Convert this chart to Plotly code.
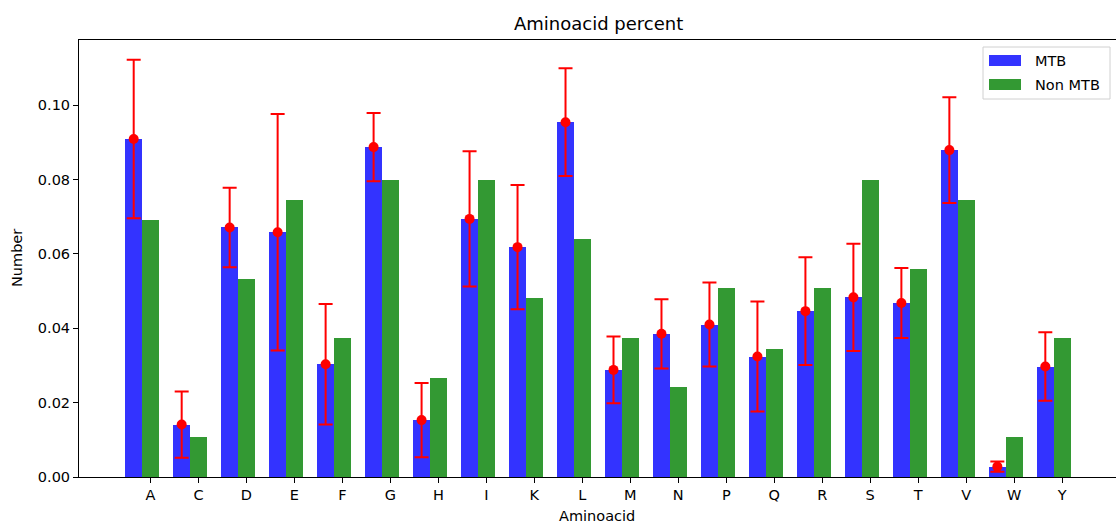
import plotly.graph_objects as go

# Amino acid composition: MTB mean (with spread) vs Non MTB
aminoacids = ["A", "C", "D", "E", "F", "G", "H", "I", "K", "L",
              "M", "N", "P", "Q", "R", "S", "T", "V", "W", "Y"]
mtb_mean = [0.0909, 0.0141, 0.0671, 0.0658, 0.0303, 0.0887, 0.0153, 0.0694, 0.0618, 0.0954,
            0.0288, 0.0385, 0.0410, 0.0324, 0.0446, 0.0483, 0.0468, 0.0879, 0.0028, 0.0297]
mtb_err = [0.0213, 0.0089, 0.0107, 0.0318, 0.0162, 0.0092, 0.0100, 0.0182, 0.0167, 0.0145,
           0.0090, 0.0093, 0.0113, 0.0148, 0.0145, 0.0144, 0.0094, 0.0142, 0.0014, 0.0092]
non_mtb = [0.0691, 0.0107, 0.0532, 0.0746, 0.0373, 0.0798, 0.0266, 0.0798, 0.0481, 0.0639,
           0.0373, 0.0242, 0.0507, 0.0345, 0.0507, 0.0798, 0.0559, 0.0746, 0.0107, 0.0373]

BAR_W = 0.35
idx = list(range(len(aminoacids)))
x_mtb = [i - BAR_W for i in idx]
x_non = idx

BLUE = "#3333ff"
GREEN = "#339933"
FONT = "DejaVu Sans, Liberation Sans, sans-serif"
TXT = 14.5

W, H = 1116, 528
ML, MR, MT, MB = 79, 0, 40, 51
PW, PH = W - ML - MR, H - MT - MB


def px_x(px):
    return (px - ML) / PW


def px_y(py):
    return (H - MB - py) / PH


fig = go.Figure()
fig.add_trace(go.Bar(x=x_mtb, y=mtb_mean, width=BAR_W, marker=dict(color=BLUE, line=dict(width=0)),
                     name="MTB", showlegend=False))
fig.add_trace(go.Bar(x=x_non, y=non_mtb, width=BAR_W, marker=dict(color=GREEN, line=dict(width=0)),
                     name="Non MTB", showlegend=False))
fig.add_trace(go.Scatter(
    x=x_mtb, y=mtb_mean, mode="markers",
    marker=dict(color="#ff0000", size=10),
    error_y=dict(type="data", array=mtb_err, visible=True, color="#ff0000", thickness=2, width=7),
    showlegend=False, hoverinfo="skip"))

x_left = -1.49
x_right = x_left + PW / 47.98

fig.update_layout(
    width=W, height=H,
    margin=dict(l=ML, r=MR, t=MT, b=MB, pad=0),
    paper_bgcolor="white", plot_bgcolor="white",
    barmode="overlay", bargap=0,
    font=dict(family=FONT, size=TXT, color="#000000"),
    xaxis=dict(range=[x_left, x_right], tickmode="array", tickvals=idx, ticktext=aminoacids,
               showgrid=False, zeroline=False, showline=True, linecolor="#000000", linewidth=1,
               mirror=True, ticks="outside", ticklen=5, tickcolor="#000000", tickwidth=1,
               tickfont=dict(size=TXT)),
    yaxis=dict(range=[0, 0.1175], tickmode="array", tickvals=[0, 0.02, 0.04, 0.06, 0.08, 0.10],
               tickformat=".2f", showgrid=False, zeroline=False, showline=True,
               linecolor="#000000", linewidth=1, ticks="outside", ticklen=5,
               tickcolor="#000000", tickwidth=1, tickfont=dict(size=TXT)),
)

annotations = [
    dict(text="Aminoacid percent", x=px_x(598), y=px_y(23), xref="paper", yref="paper",
         showarrow=False, font=dict(size=18), xanchor="center", yanchor="middle"),
    dict(text="Aminoacid", x=px_x(597), y=px_y(516), xref="paper", yref="paper",
         showarrow=False, font=dict(size=TXT), xanchor="center", yanchor="middle"),
    dict(text="Number", x=px_x(17), y=px_y(258), xref="paper", yref="paper", textangle=-90,
         showarrow=False, font=dict(size=TXT), xanchor="center", yanchor="middle"),
    dict(text="MTB", x=px_x(1033), y=px_y(61), xref="paper", yref="paper",
         showarrow=False, font=dict(size=TXT), xanchor="left", yanchor="middle"),
    dict(text="Non MTB", x=px_x(1033), y=px_y(85), xref="paper", yref="paper",
         showarrow=False, font=dict(size=TXT), xanchor="left", yanchor="middle"),
]

shapes = [
    # legend frame
    dict(type="rect", xref="paper", yref="paper", x0=px_x(983), x1=px_x(1110),
         y0=px_y(47), y1=px_y(99), line=dict(color="#d0d0d0", width=1),
         fillcolor="rgba(255,255,255,0.8)"),
    dict(type="rect", xref="paper", yref="paper", x0=px_x(989), x1=px_x(1021),
         y0=px_y(55), y1=px_y(66), line=dict(width=0), fillcolor=BLUE),
    dict(type="rect", xref="paper", yref="paper", x0=px_x(989), x1=px_x(1021),
         y0=px_y(79), y1=px_y(90), line=dict(width=0), fillcolor=GREEN),
]

fig.update_layout(annotations=annotations, shapes=shapes)
fig.write_html("out.html")
